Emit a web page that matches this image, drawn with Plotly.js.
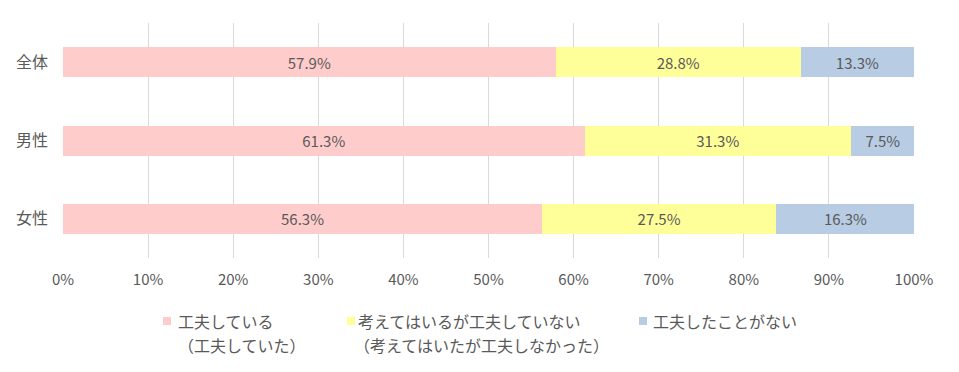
<!DOCTYPE html>
<html><head><meta charset="utf-8">
<script src="https://cdn.plot.ly/plotly-3.0.1.min.js"></script>
<style>html,body{margin:0;padding:0;background:#fff}#chart{width:959px;height:372px}</style>
</head><body><div id="chart"></div>
<script>
const categories = ["全体", "男性", "女性"];
const seriesLine1 = ["工夫している", "考えてはいるが工夫していない", "工夫したことがない"];
const seriesLine2 = ["（工夫していた）", "（考えてはいたが工夫しなかった）", ""];
const doing = [57.9, 61.3, 56.3];
const thinkingNotDoing = [28.8, 31.3, 27.5];
const never = [13.3, 7.5, 16.3];
const colors = ["#ffcccc", "#ffff99", "#b8cce4"];
const xTickVals = [0,10,20,30,40,50,60,70,80,90,100];
const xTickText = ["0%","10%","20%","30%","40%","50%","60%","70%","80%","90%","100%"];

const font = "'Noto Sans CJK JP', 'Noto Sans', sans-serif";
const txt = "#595959";
const W = 959, H = 372;
const M = {l: 63, r: 45, t: 23, b: 114};
const pw = W - M.l - M.r, ph = H - M.t - M.b;
const px = x => (x - M.l) / pw;
const py = y => (H - M.b - y) / ph;

const seriesVals = [doing, thinkingNotDoing, never];
const traces = seriesVals.map((v, i) => ({
  type: "bar", orientation: "h",
  name: seriesLine1[i] + (seriesLine2[i] ? "<br>" + seriesLine2[i] : ""),
  x: v, y: categories,
  marker: {color: colors[i]},
  texttemplate: "%{x:.1f}%", textposition: "inside", insidetextanchor: "middle",
  textfont: {color: txt, size: 15, family: font},
  constraintext: "none", hoverinfo: "x+y", showlegend: false
}));

// custom legend (layout positions in pixels)
const legendMarkerX = [163, 347, 639];
const legendTextX = [176, 356, 651];
const legendLine2X = [176, 352, 651];
const legendY1 = 321, legendY2 = 345, sw = 8;
const shapes = [], annotations = [];
seriesLine1.forEach((name, i) => {
  shapes.push({type: "rect", xref: "paper", yref: "paper",
    x0: px(legendMarkerX[i]), x1: px(legendMarkerX[i] + sw),
    y0: py(legendY1 - sw / 2), y1: py(legendY1 + sw / 2),
    fillcolor: colors[i], line: {width: 0}});
  annotations.push({xref: "paper", yref: "paper", x: px(legendTextX[i]), y: py(legendY1),
    xanchor: "left", yanchor: "middle", showarrow: false, text: name,
    font: {size: 16, color: txt, family: font}});
  if (seriesLine2[i]) annotations.push({xref: "paper", yref: "paper", x: px(legendLine2X[i]), y: py(legendY2),
    xanchor: "left", yanchor: "middle", showarrow: false, text: seriesLine2[i],
    font: {size: 16, color: txt, family: font}});
});

const layout = {
  width: W, height: H, margin: M,
  barmode: "stack", bargap: 0.617,
  paper_bgcolor: "#fff", plot_bgcolor: "#fff",
  font: {family: font, color: txt, size: 15},
  showlegend: false,
  xaxis: {range: [0, 100], tickvals: xTickVals, ticktext: xTickText,
    showgrid: true, gridcolor: "#d9d9d9", gridwidth: 1, zeroline: false,
    showline: false, ticks: "", ticklabelstandoff: 11, tickfont: {size: 15, color: txt}, fixedrange: true},
  yaxis: {autorange: "reversed", showgrid: false, zeroline: false, showline: false,
    ticks: "", ticklabelstandoff: 14, tickfont: {size: 16, color: txt}, fixedrange: true},
  shapes: shapes, annotations: annotations
};
Plotly.newPlot("chart", traces, layout, {displayModeBar: false, staticPlot: true});
</script></body></html>
